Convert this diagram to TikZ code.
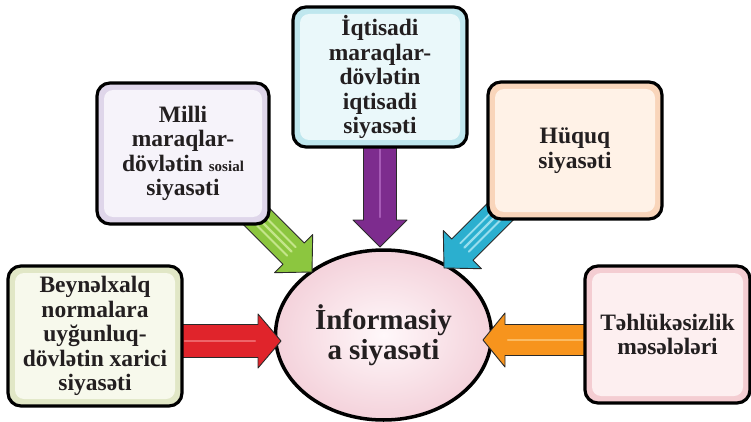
\documentclass[tikz,border=0pt]{standalone}
\usepackage{fontspec}
\setmainfont{Liberation Serif}
\usetikzlibrary{calc,shapes.geometric}
\pgfdeclarelayer{back}
\pgfdeclarelayer{mid}
\pgfsetlayers{back,mid,main}
\definecolor{txt}{HTML}{231F20}
\definecolor{arrowline}{HTML}{2A2A2A}
\definecolor{purpleA}{HTML}{7D2C8E}\definecolor{purpleL}{HTML}{B46AC4}
\definecolor{greenA}{HTML}{8CC63F}\definecolor{greenL}{HTML}{D8F0A4}
\definecolor{cyanA}{HTML}{2BAFCF}\definecolor{cyanL}{HTML}{BDEFF8}
\definecolor{redA}{HTML}{E0242B}\definecolor{redL}{HTML}{F47A7E}
\definecolor{orangeA}{HTML}{F7941D}\definecolor{orangeL}{HTML}{FDC97A}
\definecolor{milO}{HTML}{DFD6EA}\definecolor{milI}{HTML}{F6F3FA}
\definecolor{iqO}{HTML}{BFE7EE}\definecolor{iqI}{HTML}{EAF8FA}
\definecolor{hqO}{HTML}{F9D5BA}\definecolor{hqI}{HTML}{FFF2E7}
\definecolor{beyO}{HTML}{E1E7C6}\definecolor{beyI}{HTML}{F7F9EC}
\definecolor{tehO}{HTML}{F4CDD2}\definecolor{tehI}{HTML}{FDEFF0}
\definecolor{infO}{HTML}{F4D2DB}\definecolor{infI}{HTML}{FFF8FA}
\tikzset{
  infobox/.style 2 args={draw=black, line width=3.2pt, rounded corners=13pt,
    align=center, text=txt, inner sep=0pt, fill=#1,
    font=\bfseries\fontsize{23.5}{24.5}\selectfont,
    path picture={\fill[#2, rounded corners=9pt]
      ($(path picture bounding box.south west)+(7pt,7pt)$) rectangle
      ($(path picture bounding box.north east)+(-7pt,-7pt)$);}},
  barrowline/.style={draw=arrowline, line width=0.9pt, line join=round},
  stripe/.style={line width=2.4pt, line cap=round, opacity=.75},
}
% #1 tail, #2 tip, #3 fill, #4 light, #5 half shaft, #6 half head, #7 head length
\newcommand\blockarrow[7]{%
  \coordinate (hb) at ($(#2)!#7!(#1)$);
  \filldraw[barrowline, fill=#3]
    ($(#1)!#5!90:(#2)$) -- ($(hb)!#5!90:(#2)$) -- ($(hb)!#6!90:(#2)$) -- (#2)
    -- ($(hb)!#6!-90:(#2)$) -- ($(hb)!#5!-90:(#2)$) -- ($(#1)!#5!-90:(#2)$) -- cycle;
  \coordinate (s0) at ($(#1)!6pt!(#2)$);
  \coordinate (s1) at ($(hb)!3pt!(#1)$);
  \draw[#4, stripe] (s0) -- (s1);
}
\newcommand\stripedarrow[7]{%
  \blockarrow{#1}{#2}{#3}{#4}{#5}{#6}{#7}
  \draw[#4, stripe, line width=1.8pt] ($(s0)!6pt!90:(#2)$) -- ($(s1)!6pt!90:(#2)$);
  \draw[#4, stripe, line width=1.8pt] ($(s0)!6pt!-90:(#2)$) -- ($(s1)!6pt!-90:(#2)$);
}
\begin{document}
\begin{tikzpicture}[x=1pt,y=-1pt]
\useasboundingbox (0,0) rectangle (751,422);
% boxes
\node[infobox={iqO}{iqI}, minimum width=174pt, minimum height=140pt] (iq) at (380,77)
  {İqtisadi\\maraqlar-\\dövlətin\\iqtisadi\\siyasəti};
\node[infobox={milO}{milI}, minimum width=172pt, minimum height=141pt] (mil) at (183,153.5)
  {Milli\\maraqlar-\\dövlətin {\fontsize{15}{15}\selectfont sosial}\\siyasəti};
\node[infobox={hqO}{hqI}, minimum width=174pt, minimum height=137pt] (hq) at (575,150.5)
  {Hüquq\\siyasəti};
\node[infobox={beyO}{beyI}, minimum width=174pt, minimum height=140pt] (bey) at (95,336)
  {Beynəlxalq\\normalara\\uyğunluq-\\dövlətin xarici\\siyasəti};
\node[infobox={tehO}{tehI}, minimum width=165pt, minimum height=137pt] (teh) at (667.5,334.5)
  {Təhlükəsizlik\\məsələləri};
% centre
\begin{pgfonlayer}{back}
\node[ellipse, draw=black, line width=3.5pt, minimum width=216pt, minimum height=170pt,
  inner color=infI, outer color=infO, align=center, text=txt,
  font=\bfseries\fontsize{29}{30}\selectfont] (inf) at (383.5,335)
  {İnformasiy\\a siyasəti};
\end{pgfonlayer}
% arrow ends
\coordinate (tipP) at (380,247);
\coordinate (tipG) at (312,272);
\coordinate (tipC) at (444,268);
\coordinate (tipR) at (281,341);
\coordinate (tipO) at (483,340);
\coordinate (tailP) at ($(iq.south)+(0,5pt)$);
\coordinate (tailG) at ($(mil.south east)+(-24pt,19pt)$);
\coordinate (tailC) at ($(hq.south west)+(24pt,19pt)$);
\coordinate (tailR) at ($(bey.east)+(-5pt,-5pt)$);
\coordinate (tailO) at ($(teh.west)+(5pt,-5.5pt)$);
\begin{pgfonlayer}{mid}
\blockarrow{tailP}{tipP}{purpleA}{purpleL}{16.5pt}{27pt}{27pt}
\stripedarrow{tailG}{tipG}{greenA}{greenL}{15pt}{27pt}{26pt}
\stripedarrow{tailC}{tipC}{cyanA}{cyanL}{15pt}{27pt}{26pt}
\blockarrow{tailR}{tipR}{redA}{redL}{16.5pt}{27pt}{23pt}
\blockarrow{tailO}{tipO}{orangeA}{orangeL}{15.5pt}{27pt}{22pt}
\end{pgfonlayer}
\end{tikzpicture}
\end{document}
